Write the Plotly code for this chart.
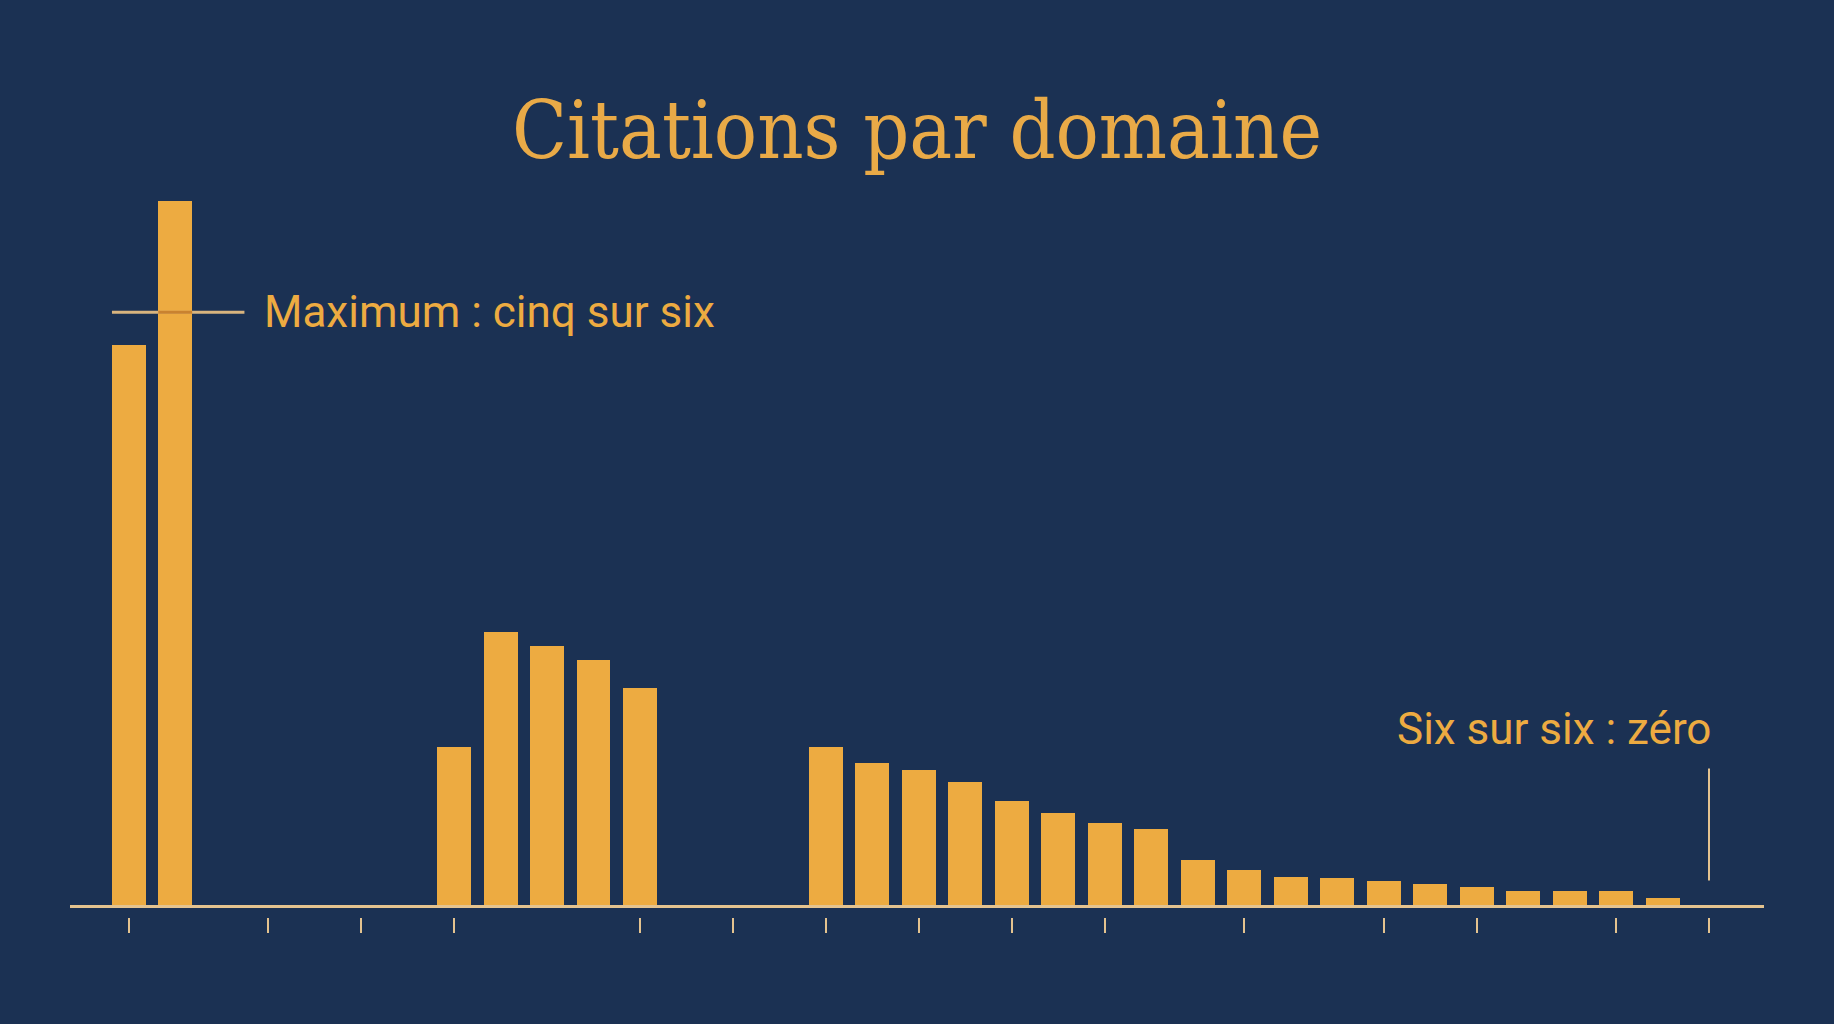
import plotly.graph_objects as go

# --------------------
# Data
# --------------------
# one slot per domain position along the axis, zero where no bar is drawn
domain_idx = list(range(35))
citations = [
    96.0, 120.6,
    0, 0, 0, 0, 0,
    27.2, 47.0, 44.6, 42.1, 37.4,
    0, 0, 0,
    27.2, 24.6, 23.3, 21.2, 18.0, 15.9, 14.3, 13.3,
    7.9, 6.2, 5.1, 4.9, 4.3, 3.8, 3.4, 2.6, 2.6, 2.6, 1.4,
    0,
]
tick_positions = [0, 3, 5, 7, 11, 13, 15, 17, 19, 21, 24, 27, 29, 32, 34]

MAX_LEVEL = 101.6        # "cinq sur six" reference level
ZERO_IDX = 34            # "six sur six" slot

TITLE = "Citations par domaine"
MAX_LABEL = "Maximum : cinq sur six"
ZERO_LABEL = "Six sur six : zéro"

# --------------------
# Style
# --------------------
BG = "#1B3153"
GOLD = "#EDAB41"
TITLE_GOLD = "#E9AA47"
CREAM = "#E4C38F"
TAN = "#D9B47E"

fig = go.Figure()

fig.add_trace(go.Bar(
    x=domain_idx, y=citations,
    width=0.73,
    marker=dict(color=GOLD, line=dict(width=0)),
    hoverinfo="skip",
))

# baseline
fig.add_shape(type="line", xref="paper", yref="y", x0=0, x1=1, y0=0, y1=0,
              line=dict(color=CREAM, width=3), layer="above")

# maximum reference line (darker where it crosses the bar)
fig.add_shape(type="line", xref="x", yref="y",
              x0=domain_idx[0] - 0.36, x1=domain_idx[1] + 1.49,
              y0=MAX_LEVEL, y1=MAX_LEVEL,
              line=dict(color=TAN, width=3), layer="above")
fig.add_shape(type="line", xref="x", yref="y",
              x0=domain_idx[1] - 0.365, x1=domain_idx[1] + 0.365,
              y0=MAX_LEVEL, y1=MAX_LEVEL,
              line=dict(color="#C9822F", width=3), layer="above")
fig.add_annotation(x=domain_idx[1] + 1.49, y=MAX_LEVEL, xref="x", yref="y",
                   text=MAX_LABEL, showarrow=False, xanchor="left", yanchor="middle",
                   xshift=18, font=dict(family="Roboto", size=44, color=GOLD))

# zero marker for six sur six
fig.add_shape(type="line", xref="x", yref="y", ysizemode="pixel", yanchor=0,
              x0=ZERO_IDX, x1=ZERO_IDX, y0=26, y1=138,
              line=dict(color=CREAM, width=2), layer="above")
fig.add_annotation(x=ZERO_IDX, y=0, xref="x", yref="y",
                   text=ZERO_LABEL, showarrow=False, xanchor="right", yanchor="middle",
                   xshift=4, yshift=178, font=dict(family="Roboto", size=44, color=GOLD))

fig.update_layout(
    width=1834, height=1024,
    paper_bgcolor=BG, plot_bgcolor=BG,
    margin=dict(l=70, r=70, t=180, b=107),
    showlegend=False,
    bargap=0,
    title=dict(text=TITLE, x=0.5, xanchor="center", y=1 - 129.5 / 1024, yanchor="middle",
               font=dict(family="DejaVu Serif Condensed, Liberation Serif", size=80,
                         color=TITLE_GOLD)),
    xaxis=dict(range=[-1.263, 35.183], tickvals=tick_positions, showticklabels=False,
               ticks="outside", ticklen=15, tickwidth=2, tickcolor=CREAM,
               showline=False, showgrid=False, zeroline=False),
    yaxis=dict(range=[-1.795, 124.19], visible=False, showgrid=False, zeroline=False),
)

fig.write_html("out.html", config={"displayModeBar": False},
               post_script="document.body.style.margin='0';")
